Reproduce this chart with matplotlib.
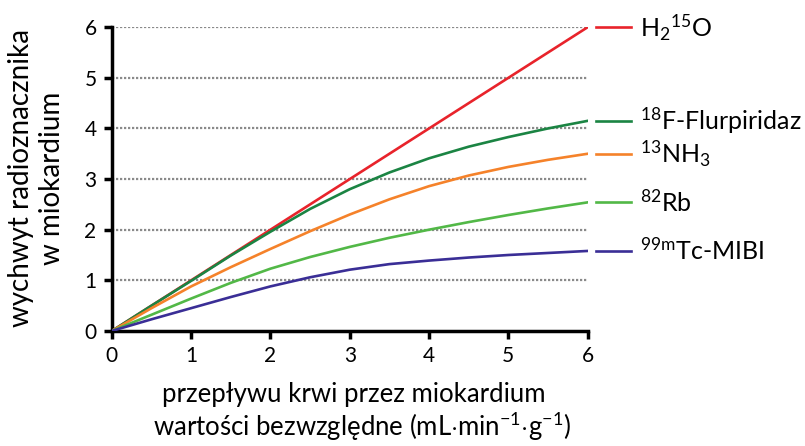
import matplotlib
matplotlib.use("Agg")
import matplotlib.pyplot as plt
import matplotlib.transforms as mtransforms

plt.rcParams['font.family'] = ['Lato', 'DejaVu Sans']
plt.rcParams['mathtext.fontset'] = 'custom'
plt.rcParams['mathtext.rm'] = 'Lato'
plt.rcParams['mathtext.it'] = 'Lato'
plt.rcParams['mathtext.default'] = 'rm'

x = [0, 0.5, 1, 1.5, 2, 2.5, 3, 3.5, 4, 4.5, 5, 5.5, 6]
h2o = [0, 0.5, 1, 1.5, 2, 2.5, 3, 3.5, 4, 4.5, 5, 5.5, 6]
flurpiridaz = [0, 0.5, 0.99, 1.49, 1.96, 2.41, 2.8, 3.13, 3.41, 3.64, 3.83, 4.0, 4.15]
nh3 = [0, 0.45, 0.88, 1.26, 1.62, 1.97, 2.3, 2.6, 2.86, 3.07, 3.24, 3.38, 3.5]
rb = [0, 0.32, 0.64, 0.95, 1.23, 1.46, 1.66, 1.84, 2.0, 2.15, 2.29, 2.42, 2.54]
mibi = [0, 0.23, 0.45, 0.67, 0.88, 1.06, 1.21, 1.32, 1.39, 1.45, 1.5, 1.54, 1.58]

series = [
    (h2o, '#e8232b', r'H$_2$$^{15}$O'),
    (flurpiridaz, '#1b8443', r'$^{18}$F-Flurpiridaz'),
    (nh3, '#f5822a', r'$^{13}$NH$_3$'),
    (rb, '#52b847', r'$^{82}$Rb'),
    (mibi, '#3a2e96', r'$^{99m}$Tc-MIBI'),
]

ticks = [0, 1, 2, 3, 4, 5, 6]

fig = plt.figure(figsize=(8.05, 4.46), dpi=100)
ax = fig.add_axes([0.139, 0.258, 0.591, 0.681])

for yv in ticks[1:]:
    ax.axhline(yv, color='#8a8a8a', lw=1.6, ls=(0, (1, 0.8)), zorder=1)

for vals, col, lab in series:
    ax.plot(x, vals, color=col, lw=1.9, zorder=3, solid_joinstyle='round')

text_shift = mtransforms.offset_copy(ax.transData, fig=fig, x=0, y=-9, units='dots')
for vals, col, lab in series:
    yend = vals[-1]
    ax.plot([6.11, 6.55], [yend, yend], color=col, lw=1.9, clip_on=False)
    ax.text(6.66, yend, lab, fontsize=18, va='baseline', ha='left',
            transform=text_shift)

ax.set_xlim(0, 6)
ax.set_ylim(0, 6)
ax.set_xticks(ticks)
ax.set_yticks(ticks)
for s in ['top', 'right']:
    ax.spines[s].set_visible(False)
for s in ['left', 'bottom']:
    ax.spines[s].set_linewidth(2.5)
ax.tick_params(width=2.5, length=6, labelsize=15, pad=5)

fig.text(0.045, 0.60, 'wychwyt radioznacznika\nw miokardium', rotation=90,
         ha='center', va='center', fontsize=20, linespacing=1.25)
fig.text(0.439, 0.098, 'przepływu krwi przez miokardium', ha='center',
         va='baseline', fontsize=18.5)
fig.text(0.45, 0.022, r'wartości bezwzględne (mL$\cdot$min$^{-1}$$\cdot$g$^{-1}$)',
         ha='center', va='baseline', fontsize=18.5)

fig.savefig('out.png', dpi=100)
